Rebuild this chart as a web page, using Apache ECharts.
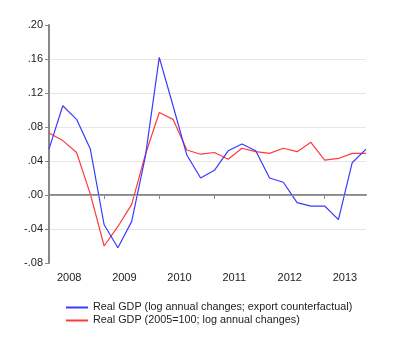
<!DOCTYPE html>
<html>
<head>
<meta charset="utf-8">
<script src="https://cdn.jsdelivr.net/npm/echarts@6/dist/echarts.min.js"></script>
<style>
  html, body { margin: 0; padding: 0; background: #fff; }
  #main { width: 400px; height: 350px; }
</style>
</head>
<body>
<div id="main"></div>
<script>
// quarterly, 2008Q1 .. 2013Q4
var quarters = [];
var years = ['2008', '2009', '2010', '2011', '2012', '2013'];
years.forEach(function (y) {
  for (var q = 1; q <= 4; q++) quarters.push(y + 'Q' + q);
});

var counterfactual = [0.054, 0.105, 0.089, 0.054, -0.035, -0.062, -0.031, 0.046,
  0.162, 0.105, 0.047, 0.020, 0.029, 0.052, 0.060, 0.052,
  0.020, 0.015, -0.009, -0.013, -0.013, -0.029, 0.038, 0.054];
var realGdp = [0.073, 0.064, 0.050, 0.001, -0.060, -0.037, -0.011, 0.048,
  0.097, 0.089, 0.053, 0.048, 0.050, 0.042, 0.055, 0.051,
  0.049, 0.055, 0.051, 0.062, 0.041, 0.043, 0.049, 0.049];

var seriesNames = ['Real GDP (log annual changes; export counterfactual)',
  'Real GDP (2005=100; log annual changes)'];

var font = 'Liberation Sans, Arial, sans-serif';
var chart = echarts.init(document.getElementById('main'));

chart.setOption({
  animation: false,
  grid: { left: 49, right: 34, top: 25, bottom: 87 },
  legend: {
    orient: 'vertical',
    left: 61,
    top: 297,
    itemWidth: 22,
    itemHeight: 2,
    itemGap: 2,
    itemTextGap: 3,
    icon: 'rect',
    textStyle: { fontFamily: font, fontSize: 10.8, color: '#222', lineHeight: 11 },
    data: seriesNames
  },
  xAxis: {
    type: 'category',
    data: quarters,
    boundaryGap: false,
    axisLine: { lineStyle: { color: '#888', width: 2 } },
    axisTick: { interval: 3, length: 4, lineStyle: { color: '#888' } },
    axisLabel: {
      interval: 3,
      align: 'left',
      padding: [0, 0, 0, 8],
      margin: 9,
      fontFamily: font,
      fontSize: 11,
      color: '#222',
      formatter: function (v) { return v.slice(0, 4); }
    },
    splitLine: { show: false }
  },
  yAxis: {
    type: 'value',
    min: -0.08,
    max: 0.20,
    interval: 0.04,
    axisLine: { show: true, lineStyle: { color: '#888', width: 2 } },
    axisTick: { show: true, length: 4, lineStyle: { color: '#888' } },
    axisLabel: {
      margin: 6,
      fontFamily: font,
      fontSize: 11,
      color: '#222',
      formatter: function (v) { return v.toFixed(2).replace('0.', '.'); }
    },
    splitLine: {
      show: true,
      showMinLine: false,
      showMaxLine: false,
      lineStyle: { color: '#e6e6e6', width: 1 }
    }
  },
  series: [
    {
      name: seriesNames[0],
      type: 'line',
      data: counterfactual,
      symbol: 'none',
      lineStyle: { color: '#3a3aff', width: 1.2 },
      itemStyle: { color: '#3a3aff' },
      markLine: {
        silent: true,
        symbol: 'none',
        label: { show: false },
        lineStyle: { color: '#999', type: 'solid', width: 1 },
        data: [{ yAxis: 0 }]
      },
      z: 3
    },
    {
      name: seriesNames[1],
      type: 'line',
      data: realGdp,
      symbol: 'none',
      lineStyle: { color: '#ff3a3a', width: 1.2 },
      itemStyle: { color: '#ff3a3a' },
      z: 2
    }
  ]
});
</script>
</body>
</html>
